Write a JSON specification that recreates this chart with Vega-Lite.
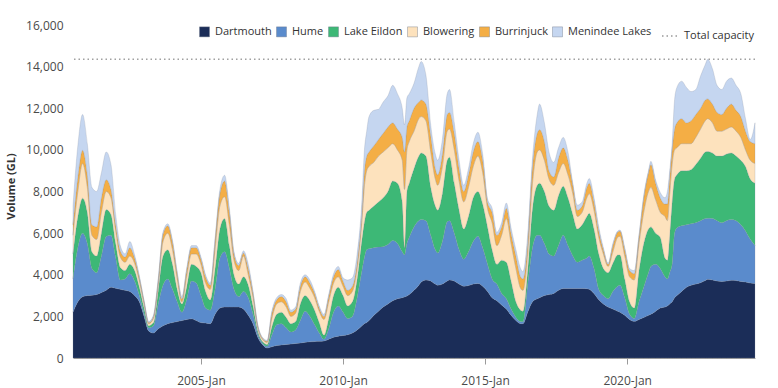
{
"$schema":"https://vega.github.io/schema/vega-lite/v6.json",
"width":682,"height":333,
"autosize":{"type":"none"},
"padding":{"left":73,"top":25,"right":23,"bottom":30},
"background":"white",
"config":{"font":"Open Sans","view":{"stroke":null},"legend":{"padding":0}},
"layer":[
{"data":{"values":[
{"d":"2000-07-01","Dartmouth":2200,"Hume":1600,"Lake Eildon":1200,"Blowering":900,"Burrinjuck":500,"Menindee Lakes":900},
{"d":"2000-09-01","Dartmouth":2700,"Hume":2600,"Lake Eildon":1500,"Blowering":1200,"Burrinjuck":700,"Menindee Lakes":1500},
{"d":"2000-11-01","Dartmouth":2940,"Hume":3050,"Lake Eildon":1690,"Blowering":1670,"Burrinjuck":630,"Menindee Lakes":1720},
{"d":"2001-01-01","Dartmouth":3000,"Hume":2500,"Lake Eildon":1500,"Blowering":1200,"Burrinjuck":600,"Menindee Lakes":1500},
{"d":"2001-03-01","Dartmouth":3020,"Hume":1280,"Lake Eildon":800,"Blowering":800,"Burrinjuck":500,"Menindee Lakes":1800},
{"d":"2001-05-01","Dartmouth":3050,"Hume":1050,"Lake Eildon":800,"Blowering":800,"Burrinjuck":600,"Menindee Lakes":1700},
{"d":"2001-07-01","Dartmouth":3150,"Hume":1750,"Lake Eildon":1100,"Blowering":1000,"Burrinjuck":700,"Menindee Lakes":1200},
{"d":"2001-09-01","Dartmouth":3260,"Hume":2580,"Lake Eildon":1290,"Blowering":870,"Burrinjuck":570,"Menindee Lakes":1330},
{"d":"2001-11-01","Dartmouth":3400,"Hume":2500,"Lake Eildon":1000,"Blowering":800,"Burrinjuck":400,"Menindee Lakes":1200},
{"d":"2002-01-01","Dartmouth":3350,"Hume":1450,"Lake Eildon":700,"Blowering":600,"Burrinjuck":300,"Menindee Lakes":500},
{"d":"2002-03-01","Dartmouth":3300,"Hume":450,"Lake Eildon":600,"Blowering":500,"Burrinjuck":300,"Menindee Lakes":250},
{"d":"2002-05-01","Dartmouth":3250,"Hume":550,"Lake Eildon":400,"Blowering":400,"Burrinjuck":250,"Menindee Lakes":150},
{"d":"2002-07-01","Dartmouth":3200,"Hume":850,"Lake Eildon":450,"Blowering":400,"Burrinjuck":400,"Menindee Lakes":300},
{"d":"2002-09-01","Dartmouth":3000,"Hume":700,"Lake Eildon":500,"Blowering":350,"Burrinjuck":250,"Menindee Lakes":150},
{"d":"2002-11-01","Dartmouth":2700,"Hume":300,"Lake Eildon":400,"Blowering":300,"Burrinjuck":150,"Menindee Lakes":100},
{"d":"2003-01-01","Dartmouth":2000,"Hume":150,"Lake Eildon":250,"Blowering":200,"Burrinjuck":100,"Menindee Lakes":50},
{"d":"2003-03-01","Dartmouth":1300,"Hume":150,"Lake Eildon":100,"Blowering":100,"Burrinjuck":50,"Menindee Lakes":60},
{"d":"2003-05-01","Dartmouth":1200,"Hume":350,"Lake Eildon":150,"Blowering":200,"Burrinjuck":100,"Menindee Lakes":50},
{"d":"2003-07-01","Dartmouth":1400,"Hume":1200,"Lake Eildon":600,"Blowering":300,"Burrinjuck":200,"Menindee Lakes":100},
{"d":"2003-09-01","Dartmouth":1550,"Hume":1950,"Lake Eildon":1400,"Blowering":700,"Burrinjuck":350,"Menindee Lakes":100},
{"d":"2003-11-01","Dartmouth":1650,"Hume":2150,"Lake Eildon":1400,"Blowering":800,"Burrinjuck":350,"Menindee Lakes":100},
{"d":"2004-01-01","Dartmouth":1700,"Hume":1600,"Lake Eildon":1200,"Blowering":700,"Burrinjuck":350,"Menindee Lakes":100},
{"d":"2004-03-01","Dartmouth":1750,"Hume":950,"Lake Eildon":600,"Blowering":500,"Burrinjuck":250,"Menindee Lakes":100},
{"d":"2004-05-01","Dartmouth":1800,"Hume":400,"Lake Eildon":400,"Blowering":100,"Burrinjuck":150,"Menindee Lakes":100},
{"d":"2004-07-01","Dartmouth":1850,"Hume":950,"Lake Eildon":600,"Blowering":500,"Burrinjuck":300,"Menindee Lakes":100},
{"d":"2004-09-01","Dartmouth":1880,"Hume":1820,"Lake Eildon":800,"Blowering":500,"Burrinjuck":300,"Menindee Lakes":100},
{"d":"2004-11-01","Dartmouth":1800,"Hume":1800,"Lake Eildon":800,"Blowering":600,"Burrinjuck":300,"Menindee Lakes":100},
{"d":"2005-01-01","Dartmouth":1700,"Hume":1300,"Lake Eildon":1100,"Blowering":400,"Burrinjuck":250,"Menindee Lakes":100},
{"d":"2005-03-01","Dartmouth":1680,"Hume":720,"Lake Eildon":800,"Blowering":400,"Burrinjuck":300,"Menindee Lakes":100},
{"d":"2005-05-01","Dartmouth":1650,"Hume":650,"Lake Eildon":500,"Blowering":500,"Burrinjuck":200,"Menindee Lakes":100},
{"d":"2005-07-01","Dartmouth":2100,"Hume":1200,"Lake Eildon":1000,"Blowering":900,"Burrinjuck":400,"Menindee Lakes":150},
{"d":"2005-09-01","Dartmouth":2400,"Hume":2400,"Lake Eildon":1400,"Blowering":1100,"Burrinjuck":600,"Menindee Lakes":200},
{"d":"2005-11-01","Dartmouth":2450,"Hume":2650,"Lake Eildon":1600,"Blowering":1050,"Burrinjuck":750,"Menindee Lakes":280},
{"d":"2006-01-01","Dartmouth":2450,"Hume":1850,"Lake Eildon":1100,"Blowering":1000,"Burrinjuck":600,"Menindee Lakes":200},
{"d":"2006-03-01","Dartmouth":2450,"Hume":850,"Lake Eildon":700,"Blowering":700,"Burrinjuck":300,"Menindee Lakes":100},
{"d":"2006-05-01","Dartmouth":2450,"Hume":500,"Lake Eildon":600,"Blowering":650,"Burrinjuck":250,"Menindee Lakes":100},
{"d":"2006-07-01","Dartmouth":2350,"Hume":850,"Lake Eildon":700,"Blowering":1000,"Burrinjuck":150,"Menindee Lakes":100},
{"d":"2006-09-01","Dartmouth":2050,"Hume":850,"Lake Eildon":600,"Blowering":500,"Burrinjuck":300,"Menindee Lakes":200},
{"d":"2006-11-01","Dartmouth":1650,"Hume":450,"Lake Eildon":400,"Blowering":400,"Burrinjuck":200,"Menindee Lakes":100},
{"d":"2007-01-01","Dartmouth":1000,"Hume":150,"Lake Eildon":150,"Blowering":150,"Burrinjuck":100,"Menindee Lakes":50},
{"d":"2007-03-01","Dartmouth":650,"Hume":70,"Lake Eildon":80,"Blowering":100,"Burrinjuck":60,"Menindee Lakes":40},
{"d":"2007-05-01","Dartmouth":480,"Hume":80,"Lake Eildon":90,"Blowering":100,"Burrinjuck":50,"Menindee Lakes":50},
{"d":"2007-07-01","Dartmouth":540,"Hume":560,"Lake Eildon":400,"Blowering":400,"Burrinjuck":250,"Menindee Lakes":100},
{"d":"2007-09-01","Dartmouth":600,"Hume":1000,"Lake Eildon":500,"Blowering":500,"Burrinjuck":200,"Menindee Lakes":100},
{"d":"2007-11-01","Dartmouth":630,"Hume":1020,"Lake Eildon":550,"Blowering":500,"Burrinjuck":250,"Menindee Lakes":100},
{"d":"2008-01-01","Dartmouth":650,"Hume":800,"Lake Eildon":500,"Blowering":500,"Burrinjuck":250,"Menindee Lakes":150},
{"d":"2008-03-01","Dartmouth":670,"Hume":580,"Lake Eildon":400,"Blowering":350,"Burrinjuck":200,"Menindee Lakes":100},
{"d":"2008-05-01","Dartmouth":700,"Hume":650,"Lake Eildon":400,"Blowering":400,"Burrinjuck":200,"Menindee Lakes":100},
{"d":"2008-07-01","Dartmouth":720,"Hume":1080,"Lake Eildon":800,"Blowering":600,"Burrinjuck":250,"Menindee Lakes":150},
{"d":"2008-09-01","Dartmouth":760,"Hume":1490,"Lake Eildon":750,"Blowering":650,"Burrinjuck":250,"Menindee Lakes":100},
{"d":"2008-11-01","Dartmouth":780,"Hume":1220,"Lake Eildon":750,"Blowering":600,"Burrinjuck":250,"Menindee Lakes":150},
{"d":"2009-01-01","Dartmouth":790,"Hume":810,"Lake Eildon":700,"Blowering":600,"Burrinjuck":200,"Menindee Lakes":100},
{"d":"2009-03-01","Dartmouth":800,"Hume":400,"Lake Eildon":500,"Blowering":550,"Burrinjuck":150,"Menindee Lakes":100},
{"d":"2009-05-01","Dartmouth":820,"Hume":80,"Lake Eildon":200,"Blowering":750,"Burrinjuck":150,"Menindee Lakes":100},
{"d":"2009-07-01","Dartmouth":900,"Hume":500,"Lake Eildon":500,"Blowering":800,"Burrinjuck":250,"Menindee Lakes":100},
{"d":"2009-09-01","Dartmouth":1000,"Hume":1200,"Lake Eildon":800,"Blowering":600,"Burrinjuck":300,"Menindee Lakes":150},
{"d":"2009-11-01","Dartmouth":1050,"Hume":1450,"Lake Eildon":900,"Blowering":500,"Burrinjuck":350,"Menindee Lakes":150},
{"d":"2010-01-01","Dartmouth":1080,"Hume":1120,"Lake Eildon":800,"Blowering":450,"Burrinjuck":250,"Menindee Lakes":150},
{"d":"2010-03-01","Dartmouth":1120,"Hume":780,"Lake Eildon":600,"Blowering":500,"Burrinjuck":250,"Menindee Lakes":500},
{"d":"2010-05-01","Dartmouth":1200,"Hume":800,"Lake Eildon":700,"Blowering":500,"Burrinjuck":250,"Menindee Lakes":400},
{"d":"2010-07-01","Dartmouth":1350,"Hume":1550,"Lake Eildon":900,"Blowering":500,"Burrinjuck":300,"Menindee Lakes":400},
{"d":"2010-09-01","Dartmouth":1550,"Hume":2650,"Lake Eildon":1500,"Blowering":900,"Burrinjuck":400,"Menindee Lakes":600},
{"d":"2010-10-01","Dartmouth":1650,"Hume":3150,"Lake Eildon":1700,"Blowering":1700,"Burrinjuck":700,"Menindee Lakes":1000},
{"d":"2010-11-01","Dartmouth":1700,"Hume":3500,"Lake Eildon":1800,"Blowering":2000,"Burrinjuck":700,"Menindee Lakes":1200},
{"d":"2010-12-01","Dartmouth":1800,"Hume":3450,"Lake Eildon":1850,"Blowering":2100,"Burrinjuck":700,"Menindee Lakes":1700},
{"d":"2011-02-01","Dartmouth":2050,"Hume":3250,"Lake Eildon":2000,"Blowering":2100,"Burrinjuck":800,"Menindee Lakes":1700},
{"d":"2011-04-01","Dartmouth":2250,"Hume":3080,"Lake Eildon":2170,"Blowering":2200,"Burrinjuck":800,"Menindee Lakes":1450},
{"d":"2011-06-01","Dartmouth":2450,"Hume":2900,"Lake Eildon":2350,"Blowering":2200,"Burrinjuck":900,"Menindee Lakes":1500},
{"d":"2011-08-01","Dartmouth":2600,"Hume":2850,"Lake Eildon":2550,"Blowering":2100,"Burrinjuck":1000,"Menindee Lakes":1500},
{"d":"2011-10-01","Dartmouth":2750,"Hume":2900,"Lake Eildon":2850,"Blowering":1800,"Burrinjuck":1000,"Menindee Lakes":1800},
{"d":"2011-12-01","Dartmouth":2850,"Hume":2650,"Lake Eildon":2900,"Blowering":1600,"Burrinjuck":1000,"Menindee Lakes":1700},
{"d":"2012-02-01","Dartmouth":2900,"Hume":2200,"Lake Eildon":2400,"Blowering":2000,"Burrinjuck":1100,"Menindee Lakes":1400},
{"d":"2012-03-01","Dartmouth":2930,"Hume":2020,"Lake Eildon":350,"Blowering":2800,"Burrinjuck":1800,"Menindee Lakes":1300},
{"d":"2012-04-01","Dartmouth":2980,"Hume":2520,"Lake Eildon":2500,"Blowering":2000,"Burrinjuck":1100,"Menindee Lakes":1400},
{"d":"2012-05-01","Dartmouth":3050,"Hume":2750,"Lake Eildon":2600,"Blowering":2000,"Burrinjuck":1000,"Menindee Lakes":1300},
{"d":"2012-07-01","Dartmouth":3250,"Hume":3050,"Lake Eildon":2800,"Blowering":1800,"Burrinjuck":1100,"Menindee Lakes":1200},
{"d":"2012-09-01","Dartmouth":3500,"Hume":3100,"Lake Eildon":3100,"Blowering":1800,"Burrinjuck":800,"Menindee Lakes":1700},
{"d":"2012-10-01","Dartmouth":3650,"Hume":3000,"Lake Eildon":3200,"Blowering":1750,"Burrinjuck":800,"Menindee Lakes":1850},
{"d":"2012-12-01","Dartmouth":3750,"Hume":2850,"Lake Eildon":3100,"Blowering":1700,"Burrinjuck":800,"Menindee Lakes":1400},
{"d":"2013-02-01","Dartmouth":3700,"Hume":2200,"Lake Eildon":2300,"Blowering":1700,"Burrinjuck":800,"Menindee Lakes":500},
{"d":"2013-04-01","Dartmouth":3550,"Hume":1650,"Lake Eildon":2100,"Blowering":1300,"Burrinjuck":500,"Menindee Lakes":700},
{"d":"2013-05-01","Dartmouth":3500,"Hume":1550,"Lake Eildon":2050,"Blowering":1200,"Burrinjuck":500,"Menindee Lakes":700},
{"d":"2013-07-01","Dartmouth":3550,"Hume":2050,"Lake Eildon":2300,"Blowering":1300,"Burrinjuck":600,"Menindee Lakes":700},
{"d":"2013-09-01","Dartmouth":3700,"Hume":2850,"Lake Eildon":2950,"Blowering":1400,"Burrinjuck":800,"Menindee Lakes":1000},
{"d":"2013-10-01","Dartmouth":3750,"Hume":2850,"Lake Eildon":3050,"Blowering":1350,"Burrinjuck":800,"Menindee Lakes":1100},
{"d":"2013-12-01","Dartmouth":3700,"Hume":2300,"Lake Eildon":2400,"Blowering":1600,"Burrinjuck":800,"Menindee Lakes":500},
{"d":"2014-02-01","Dartmouth":3550,"Hume":1650,"Lake Eildon":1900,"Blowering":1400,"Burrinjuck":600,"Menindee Lakes":400},
{"d":"2014-04-01","Dartmouth":3450,"Hume":1300,"Lake Eildon":1450,"Blowering":1300,"Burrinjuck":500,"Menindee Lakes":300},
{"d":"2014-06-01","Dartmouth":3480,"Hume":1620,"Lake Eildon":1700,"Blowering":1400,"Burrinjuck":600,"Menindee Lakes":300},
{"d":"2014-08-01","Dartmouth":3550,"Hume":2050,"Lake Eildon":2100,"Blowering":1500,"Burrinjuck":700,"Menindee Lakes":400},
{"d":"2014-10-01","Dartmouth":3580,"Hume":2270,"Lake Eildon":2150,"Blowering":1700,"Burrinjuck":700,"Menindee Lakes":450},
{"d":"2014-12-01","Dartmouth":3450,"Hume":1850,"Lake Eildon":2100,"Blowering":1500,"Burrinjuck":600,"Menindee Lakes":300},
{"d":"2015-02-01","Dartmouth":3200,"Hume":1300,"Lake Eildon":1800,"Blowering":900,"Burrinjuck":300,"Menindee Lakes":150},
{"d":"2015-04-01","Dartmouth":2900,"Hume":900,"Lake Eildon":1400,"Blowering":1300,"Burrinjuck":500,"Menindee Lakes":200},
{"d":"2015-06-01","Dartmouth":2750,"Hume":800,"Lake Eildon":950,"Blowering":900,"Burrinjuck":500,"Menindee Lakes":150},
{"d":"2015-08-01","Dartmouth":2550,"Hume":550,"Lake Eildon":1600,"Blowering":1200,"Burrinjuck":400,"Menindee Lakes":200},
{"d":"2015-10-01","Dartmouth":2350,"Hume":500,"Lake Eildon":1750,"Blowering":2100,"Burrinjuck":500,"Menindee Lakes":250},
{"d":"2015-12-01","Dartmouth":2050,"Hume":300,"Lake Eildon":1350,"Blowering":1800,"Burrinjuck":500,"Menindee Lakes":250},
{"d":"2016-02-01","Dartmouth":1800,"Hume":150,"Lake Eildon":750,"Blowering":1600,"Burrinjuck":600,"Menindee Lakes":300},
{"d":"2016-04-01","Dartmouth":1650,"Hume":100,"Lake Eildon":550,"Blowering":1050,"Burrinjuck":550,"Menindee Lakes":400},
{"d":"2016-05-01","Dartmouth":1650,"Hume":90,"Lake Eildon":510,"Blowering":1000,"Burrinjuck":550,"Menindee Lakes":350},
{"d":"2016-07-01","Dartmouth":2200,"Hume":1300,"Lake Eildon":700,"Blowering":800,"Burrinjuck":500,"Menindee Lakes":400},
{"d":"2016-09-01","Dartmouth":2700,"Hume":2600,"Lake Eildon":1900,"Blowering":1200,"Burrinjuck":800,"Menindee Lakes":400},
{"d":"2016-11-01","Dartmouth":2850,"Hume":3050,"Lake Eildon":2400,"Blowering":1600,"Burrinjuck":900,"Menindee Lakes":900},
{"d":"2016-12-01","Dartmouth":2900,"Hume":3000,"Lake Eildon":2500,"Blowering":1600,"Burrinjuck":970,"Menindee Lakes":1230},
{"d":"2017-02-01","Dartmouth":3000,"Hume":2500,"Lake Eildon":2500,"Blowering":1500,"Burrinjuck":900,"Menindee Lakes":900},
{"d":"2017-04-01","Dartmouth":3050,"Hume":1950,"Lake Eildon":2300,"Blowering":1300,"Burrinjuck":400,"Menindee Lakes":900},
{"d":"2017-06-01","Dartmouth":3100,"Hume":1800,"Lake Eildon":2200,"Blowering":1200,"Burrinjuck":400,"Menindee Lakes":700},
{"d":"2017-08-01","Dartmouth":3250,"Hume":2150,"Lake Eildon":2400,"Blowering":1100,"Burrinjuck":700,"Menindee Lakes":500},
{"d":"2017-10-01","Dartmouth":3340,"Hume":2560,"Lake Eildon":2350,"Blowering":1100,"Burrinjuck":750,"Menindee Lakes":500},
{"d":"2017-12-01","Dartmouth":3340,"Hume":2060,"Lake Eildon":2300,"Blowering":1100,"Burrinjuck":700,"Menindee Lakes":400},
{"d":"2018-02-01","Dartmouth":3340,"Hume":1560,"Lake Eildon":2000,"Blowering":1000,"Burrinjuck":400,"Menindee Lakes":100},
{"d":"2018-04-01","Dartmouth":3340,"Hume":1260,"Lake Eildon":1600,"Blowering":600,"Burrinjuck":300,"Menindee Lakes":250},
{"d":"2018-06-01","Dartmouth":3340,"Hume":1360,"Lake Eildon":1700,"Blowering":600,"Burrinjuck":300,"Menindee Lakes":200},
{"d":"2018-08-01","Dartmouth":3330,"Hume":1470,"Lake Eildon":2000,"Blowering":900,"Burrinjuck":500,"Menindee Lakes":200},
{"d":"2018-09-01","Dartmouth":3300,"Hume":1600,"Lake Eildon":2050,"Blowering":950,"Burrinjuck":500,"Menindee Lakes":230},
{"d":"2018-11-01","Dartmouth":3100,"Hume":1200,"Lake Eildon":1900,"Blowering":900,"Burrinjuck":400,"Menindee Lakes":200},
{"d":"2019-01-01","Dartmouth":2800,"Hume":500,"Lake Eildon":1700,"Blowering":800,"Burrinjuck":300,"Menindee Lakes":200},
{"d":"2019-03-01","Dartmouth":2600,"Hume":400,"Lake Eildon":1300,"Blowering":700,"Burrinjuck":200,"Menindee Lakes":100},
{"d":"2019-05-01","Dartmouth":2450,"Hume":400,"Lake Eildon":1250,"Blowering":300,"Burrinjuck":100,"Menindee Lakes":50},
{"d":"2019-07-01","Dartmouth":2350,"Hume":850,"Lake Eildon":1350,"Blowering":550,"Burrinjuck":300,"Menindee Lakes":100},
{"d":"2019-09-01","Dartmouth":2250,"Hume":1200,"Lake Eildon":1500,"Blowering":850,"Burrinjuck":250,"Menindee Lakes":50},
{"d":"2019-10-01","Dartmouth":2200,"Hume":1300,"Lake Eildon":1450,"Blowering":900,"Burrinjuck":250,"Menindee Lakes":50},
{"d":"2019-12-01","Dartmouth":2050,"Hume":850,"Lake Eildon":900,"Blowering":1100,"Burrinjuck":300,"Menindee Lakes":100},
{"d":"2020-02-01","Dartmouth":1850,"Hume":250,"Lake Eildon":600,"Blowering":1200,"Burrinjuck":300,"Menindee Lakes":100},
{"d":"2020-04-01","Dartmouth":1760,"Hume":140,"Lake Eildon":500,"Blowering":1350,"Burrinjuck":300,"Menindee Lakes":150},
{"d":"2020-06-01","Dartmouth":1850,"Hume":850,"Lake Eildon":1500,"Blowering":1300,"Burrinjuck":300,"Menindee Lakes":100},
{"d":"2020-08-01","Dartmouth":1950,"Hume":1450,"Lake Eildon":2100,"Blowering":1500,"Burrinjuck":700,"Menindee Lakes":100},
{"d":"2020-10-01","Dartmouth":2050,"Hume":2050,"Lake Eildon":2100,"Blowering":1800,"Burrinjuck":900,"Menindee Lakes":100},
{"d":"2020-11-01","Dartmouth":2100,"Hume":2300,"Lake Eildon":1900,"Blowering":1900,"Burrinjuck":1100,"Menindee Lakes":150},
{"d":"2021-01-01","Dartmouth":2250,"Hume":2250,"Lake Eildon":1500,"Blowering":1600,"Burrinjuck":800,"Menindee Lakes":150},
{"d":"2021-03-01","Dartmouth":2400,"Hume":1900,"Lake Eildon":1500,"Blowering":1200,"Burrinjuck":700,"Menindee Lakes":250},
{"d":"2021-05-01","Dartmouth":2450,"Hume":1450,"Lake Eildon":900,"Blowering":2000,"Burrinjuck":600,"Menindee Lakes":300},
{"d":"2021-06-01","Dartmouth":2500,"Hume":1300,"Lake Eildon":900,"Blowering":1900,"Burrinjuck":800,"Menindee Lakes":600},
{"d":"2021-07-01","Dartmouth":2600,"Hume":1500,"Lake Eildon":1800,"Blowering":2000,"Burrinjuck":800,"Menindee Lakes":300},
{"d":"2021-08-01","Dartmouth":2700,"Hume":1800,"Lake Eildon":3000,"Blowering":1800,"Burrinjuck":700,"Menindee Lakes":300},
{"d":"2021-09-01","Dartmouth":2900,"Hume":3100,"Lake Eildon":2600,"Blowering":1400,"Burrinjuck":1000,"Menindee Lakes":1400},
{"d":"2021-10-01","Dartmouth":3000,"Hume":3250,"Lake Eildon":2550,"Blowering":1300,"Burrinjuck":1200,"Menindee Lakes":1700},
{"d":"2021-12-01","Dartmouth":3200,"Hume":3150,"Lake Eildon":2650,"Blowering":1300,"Burrinjuck":1200,"Menindee Lakes":1800},
{"d":"2022-02-01","Dartmouth":3400,"Hume":3000,"Lake Eildon":2600,"Blowering":1300,"Burrinjuck":1000,"Menindee Lakes":1700},
{"d":"2022-04-01","Dartmouth":3500,"Hume":2950,"Lake Eildon":2600,"Blowering":1250,"Burrinjuck":1100,"Menindee Lakes":1400},
{"d":"2022-06-01","Dartmouth":3550,"Hume":2950,"Lake Eildon":2800,"Blowering":1300,"Burrinjuck":1100,"Menindee Lakes":1200},
{"d":"2022-08-01","Dartmouth":3620,"Hume":2980,"Lake Eildon":3000,"Blowering":1400,"Burrinjuck":1000,"Menindee Lakes":1550},
{"d":"2022-10-01","Dartmouth":3720,"Hume":2980,"Lake Eildon":3200,"Blowering":1500,"Burrinjuck":1000,"Menindee Lakes":1700},
{"d":"2022-11-01","Dartmouth":3780,"Hume":2940,"Lake Eildon":3200,"Blowering":1580,"Burrinjuck":950,"Menindee Lakes":1900},
{"d":"2023-01-01","Dartmouth":3750,"Hume":2950,"Lake Eildon":3150,"Blowering":1450,"Burrinjuck":900,"Menindee Lakes":1700},
{"d":"2023-03-01","Dartmouth":3700,"Hume":2900,"Lake Eildon":3100,"Blowering":1200,"Burrinjuck":900,"Menindee Lakes":1300},
{"d":"2023-05-01","Dartmouth":3680,"Hume":2820,"Lake Eildon":3200,"Blowering":1200,"Burrinjuck":800,"Menindee Lakes":1200},
{"d":"2023-07-01","Dartmouth":3700,"Hume":2900,"Lake Eildon":3200,"Blowering":1200,"Burrinjuck":1000,"Menindee Lakes":1300},
{"d":"2023-09-01","Dartmouth":3730,"Hume":2920,"Lake Eildon":3200,"Blowering":1250,"Burrinjuck":1100,"Menindee Lakes":1250},
{"d":"2023-11-01","Dartmouth":3720,"Hume":2880,"Lake Eildon":3100,"Blowering":1200,"Burrinjuck":1000,"Menindee Lakes":1200},
{"d":"2024-01-01","Dartmouth":3680,"Hume":2720,"Lake Eildon":3100,"Blowering":1100,"Burrinjuck":1000,"Menindee Lakes":1100},
{"d":"2024-03-01","Dartmouth":3650,"Hume":2450,"Lake Eildon":3100,"Blowering":800,"Burrinjuck":900,"Menindee Lakes":600},
{"d":"2024-05-01","Dartmouth":3600,"Hume":2100,"Lake Eildon":2900,"Blowering":900,"Burrinjuck":900,"Menindee Lakes":100},
{"d":"2024-07-01","Dartmouth":3580,"Hume":1820,"Lake Eildon":3000,"Blowering":950,"Burrinjuck":950,"Menindee Lakes":1000}
]},
"transform":[
{"fold":["Dartmouth","Hume","Lake Eildon","Blowering","Burrinjuck","Menindee Lakes"],"as":["reservoir","volume"]},
{"lookup":"reservoir","from":{"data":{"values":[{"reservoir":"Dartmouth","rank":1},{"reservoir":"Hume","rank":2},{"reservoir":"Lake Eildon","rank":3},{"reservoir":"Blowering","rank":4},{"reservoir":"Burrinjuck","rank":5},{"reservoir":"Menindee Lakes","rank":6}]},"key":"reservoir","fields":["rank"]}}
],
"mark":{"type":"area","interpolate":"monotone","stroke":"#7d8798","strokeWidth":0.5,"strokeOpacity":0.45},
"encoding":{
"x":{"field":"d","type":"temporal","title":null,
"scale":{"type":"utc","domain":[{"year":2000,"month":7,"date":1,"utc":true},{"year":2024,"month":7,"date":1,"utc":true}]},
"axis":{"values":[{"year":2005,"month":1,"date":1,"utc":true},{"year":2010,"month":1,"date":1,"utc":true},{"year":2015,"month":1,"date":1,"utc":true},{"year":2020,"month":1,"date":1,"utc":true}],
"labelExpr":"utcFormat(datum.value, '%Y-%b')","grid":false,"domainColor":"#9a9a9a","tickColor":"#9a9a9a","tickSize":6,"labelPadding":11,"labelFontSize":12,"labelColor":"#4a4a4a","labelFont":"Open Sans"}},
"y":{"field":"volume","type":"quantitative","stack":"zero",
"scale":{"domain":[0,16000]},
"axis":{"values":[0,2000,4000,6000,8000,10000,12000,14000,16000],"format":",.0f","grid":false,"domain":false,"ticks":false,"labelPadding":10,"labelFontSize":12,"labelColor":"#4a4a4a","labelFont":"Open Sans",
"title":"Volume (GL)","titleFont":"Open Sans","titleFontSize":11,"titleFontWeight":"bold","titleColor":"#333333","titleX":-57,"titleY":161}},
"order":{"field":"rank","type":"quantitative","sort":"ascending"},
"color":{"field":"reservoir","type":"nominal","sort":["Dartmouth","Hume","Lake Eildon","Blowering","Burrinjuck","Menindee Lakes"],
"scale":{"domain":["Dartmouth","Hume","Lake Eildon","Blowering","Burrinjuck","Menindee Lakes"],"range":["#1b2d58","#5a8bcc","#3db876","#fde2bd","#f4ae45","#c5d6f0"]},
"legend":{"title":null,"orient":"none","legendX":126,"legendY":1,"direction":"horizontal","symbolType":"square","symbolSize":100,"symbolStrokeColor":"#6d7788","symbolStrokeWidth":0.4,"labelFont":"Open Sans","labelFontSize":11,"labelColor":"#333333","labelOffset":5,"columnPadding":3}}
}},
{"data":{"values":[{"capacity":14350}]},
"mark":{"type":"rule","strokeWidth":1.5,"color":"#a0a0a0"},
"encoding":{"y":{"field":"capacity","type":"quantitative"},
"strokeDash":{"datum":"Total capacity","scale":{"domain":["Total capacity"],"range":[[1.5,3]]},
"legend":{"title":null,"orient":"none","legendX":588,"legendY":1,"direction":"horizontal","symbolType":"stroke","symbolSize":324,"symbolStrokeColor":"#999999","symbolStrokeWidth":1.5,"labelFont":"Open Sans","labelFontSize":11,"labelColor":"#333333","labelOffset":3}}}}
]
}
